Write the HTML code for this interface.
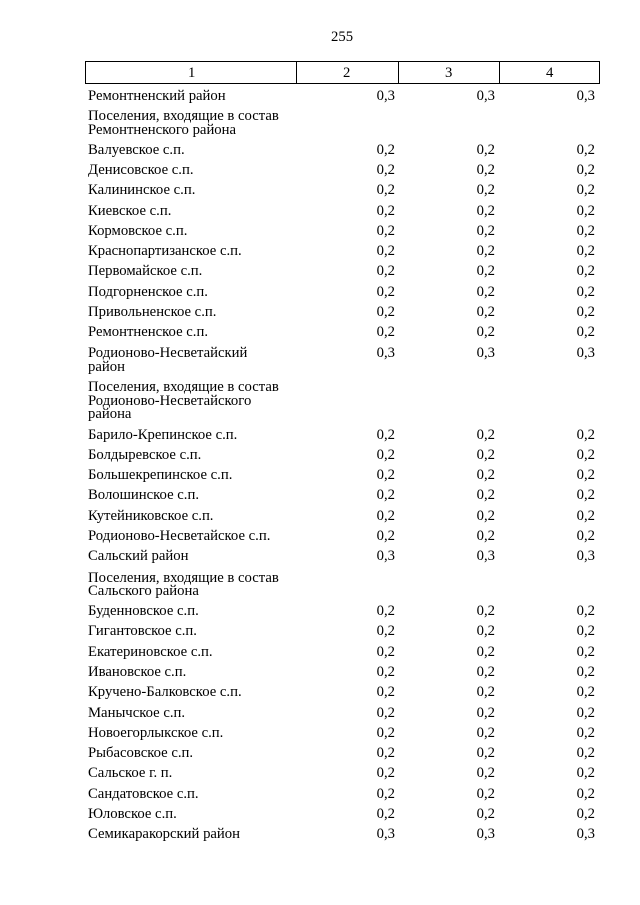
<!DOCTYPE html>
<html><head><meta charset="utf-8"><style>
body{margin:0;background:#fff;width:640px;height:905px;position:relative;overflow:hidden;font-family:"Liberation Serif",serif;font-size:14.7px;color:#000}
.t{position:absolute;left:88px;white-space:nowrap;line-height:16px;margin-top:2px}
.n{position:absolute;white-space:nowrap;line-height:16px;text-align:right;width:40px;margin-top:2px}
.a{left:355px}.b{left:455px}.c{left:555px}
.box{position:absolute;left:85px;top:61px;width:515px;height:23px;border:1px solid #000;box-sizing:border-box}
.v{position:absolute;top:61px;width:1px;height:23px;background:#000}
</style></head><body>
<div class="t" style="left:331px;top:27px">255</div>
<div class="box"></div>
<div class="v" style="left:296px"></div><div class="v" style="left:398px"></div><div class="v" style="left:499px"></div>
<div class="t" style="left:188px;top:63px">1</div>
<div class="t" style="left:343px;top:63px">2</div>
<div class="t" style="left:445px;top:63px">3</div>
<div class="t" style="left:546px;top:63px">4</div>

<div class="t" style="top:86px">Ремонтненский район</div><div class="n a" style="top:86px">0,3</div><div class="n b" style="top:86px">0,3</div><div class="n c" style="top:86px">0,3</div>
<div class="t" style="top:106px">Поселения, входящие в состав</div>
<div class="t" style="top:120px">Ремонтненского района</div>
<div class="t" style="top:140px">Валуевское с.п.</div><div class="n a" style="top:140px">0,2</div><div class="n b" style="top:140px">0,2</div><div class="n c" style="top:140px">0,2</div>
<div class="t" style="top:160px">Денисовское с.п.</div><div class="n a" style="top:160px">0,2</div><div class="n b" style="top:160px">0,2</div><div class="n c" style="top:160px">0,2</div>
<div class="t" style="top:180px">Калининское с.п.</div><div class="n a" style="top:180px">0,2</div><div class="n b" style="top:180px">0,2</div><div class="n c" style="top:180px">0,2</div>
<div class="t" style="top:201px">Киевское с.п.</div><div class="n a" style="top:201px">0,2</div><div class="n b" style="top:201px">0,2</div><div class="n c" style="top:201px">0,2</div>
<div class="t" style="top:221px">Кормовское с.п.</div><div class="n a" style="top:221px">0,2</div><div class="n b" style="top:221px">0,2</div><div class="n c" style="top:221px">0,2</div>
<div class="t" style="top:241px">Краснопартизанское с.п.</div><div class="n a" style="top:241px">0,2</div><div class="n b" style="top:241px">0,2</div><div class="n c" style="top:241px">0,2</div>
<div class="t" style="top:261px">Первомайское с.п.</div><div class="n a" style="top:261px">0,2</div><div class="n b" style="top:261px">0,2</div><div class="n c" style="top:261px">0,2</div>
<div class="t" style="top:282px">Подгорненское с.п.</div><div class="n a" style="top:282px">0,2</div><div class="n b" style="top:282px">0,2</div><div class="n c" style="top:282px">0,2</div>
<div class="t" style="top:302px">Привольненское с.п.</div><div class="n a" style="top:302px">0,2</div><div class="n b" style="top:302px">0,2</div><div class="n c" style="top:302px">0,2</div>
<div class="t" style="top:322px">Ремонтненское с.п.</div><div class="n a" style="top:322px">0,2</div><div class="n b" style="top:322px">0,2</div><div class="n c" style="top:322px">0,2</div>
<div class="t" style="top:343px">Родионово-Несветайский</div><div class="n a" style="top:343px">0,3</div><div class="n b" style="top:343px">0,3</div><div class="n c" style="top:343px">0,3</div>
<div class="t" style="top:357px">район</div>
<div class="t" style="top:377px">Поселения, входящие в состав</div>
<div class="t" style="top:391px">Родионово-Несветайского</div>
<div class="t" style="top:404px">района</div>
<div class="t" style="top:425px">Барило-Крепинское с.п.</div><div class="n a" style="top:425px">0,2</div><div class="n b" style="top:425px">0,2</div><div class="n c" style="top:425px">0,2</div>
<div class="t" style="top:445px">Болдыревское с.п.</div><div class="n a" style="top:445px">0,2</div><div class="n b" style="top:445px">0,2</div><div class="n c" style="top:445px">0,2</div>
<div class="t" style="top:465px">Большекрепинское с.п.</div><div class="n a" style="top:465px">0,2</div><div class="n b" style="top:465px">0,2</div><div class="n c" style="top:465px">0,2</div>
<div class="t" style="top:485px">Волошинское с.п.</div><div class="n a" style="top:485px">0,2</div><div class="n b" style="top:485px">0,2</div><div class="n c" style="top:485px">0,2</div>
<div class="t" style="top:506px">Кутейниковское с.п.</div><div class="n a" style="top:506px">0,2</div><div class="n b" style="top:506px">0,2</div><div class="n c" style="top:506px">0,2</div>
<div class="t" style="top:526px">Родионово-Несветайское с.п.</div><div class="n a" style="top:526px">0,2</div><div class="n b" style="top:526px">0,2</div><div class="n c" style="top:526px">0,2</div>
<div class="t" style="top:546px">Сальский район</div><div class="n a" style="top:546px">0,3</div><div class="n b" style="top:546px">0,3</div><div class="n c" style="top:546px">0,3</div>
<div class="t" style="top:568px">Поселения, входящие в состав</div>
<div class="t" style="top:581px">Сальского района</div>
<div class="t" style="top:601px">Буденновское с.п.</div><div class="n a" style="top:601px">0,2</div><div class="n b" style="top:601px">0,2</div><div class="n c" style="top:601px">0,2</div>
<div class="t" style="top:621px">Гигантовское с.п.</div><div class="n a" style="top:621px">0,2</div><div class="n b" style="top:621px">0,2</div><div class="n c" style="top:621px">0,2</div>
<div class="t" style="top:642px">Екатериновское с.п.</div><div class="n a" style="top:642px">0,2</div><div class="n b" style="top:642px">0,2</div><div class="n c" style="top:642px">0,2</div>
<div class="t" style="top:662px">Ивановское с.п.</div><div class="n a" style="top:662px">0,2</div><div class="n b" style="top:662px">0,2</div><div class="n c" style="top:662px">0,2</div>
<div class="t" style="top:682px">Кручено-Балковское с.п.</div><div class="n a" style="top:682px">0,2</div><div class="n b" style="top:682px">0,2</div><div class="n c" style="top:682px">0,2</div>
<div class="t" style="top:703px">Манычское с.п.</div><div class="n a" style="top:703px">0,2</div><div class="n b" style="top:703px">0,2</div><div class="n c" style="top:703px">0,2</div>
<div class="t" style="top:723px">Новоегорлыкское с.п.</div><div class="n a" style="top:723px">0,2</div><div class="n b" style="top:723px">0,2</div><div class="n c" style="top:723px">0,2</div>
<div class="t" style="top:743px">Рыбасовское с.п.</div><div class="n a" style="top:743px">0,2</div><div class="n b" style="top:743px">0,2</div><div class="n c" style="top:743px">0,2</div>
<div class="t" style="top:763px">Сальское г. п.</div><div class="n a" style="top:763px">0,2</div><div class="n b" style="top:763px">0,2</div><div class="n c" style="top:763px">0,2</div>
<div class="t" style="top:784px">Сандатовское с.п.</div><div class="n a" style="top:784px">0,2</div><div class="n b" style="top:784px">0,2</div><div class="n c" style="top:784px">0,2</div>
<div class="t" style="top:804px">Юловское с.п.</div><div class="n a" style="top:804px">0,2</div><div class="n b" style="top:804px">0,2</div><div class="n c" style="top:804px">0,2</div>
<div class="t" style="top:824px">Семикаракорский район</div><div class="n a" style="top:824px">0,3</div><div class="n b" style="top:824px">0,3</div><div class="n c" style="top:824px">0,3</div>
</body></html>
